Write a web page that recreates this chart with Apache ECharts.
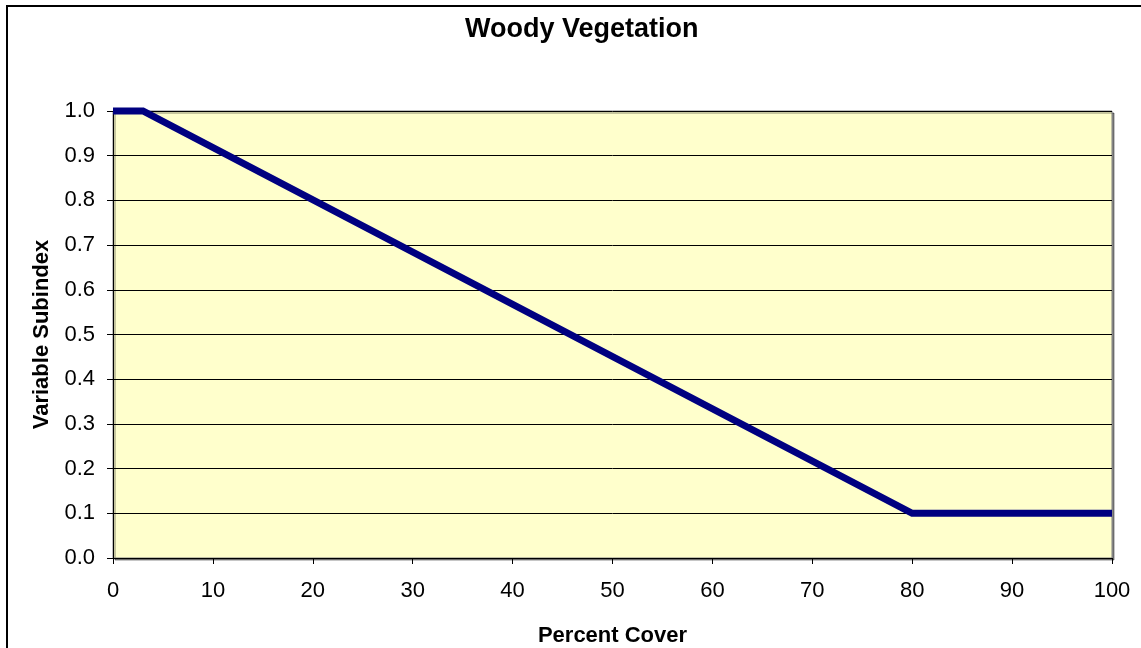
<!DOCTYPE html>
<html>
<head>
<meta charset="utf-8">
<script src="https://cdn.jsdelivr.net/npm/echarts@6/dist/echarts.min.js"></script>
<style>html,body{margin:0;padding:0;background:#fff}#c{width:1141px;height:648px}</style>
</head>
<body>
<div id="c"></div>
<script>
var titleText = 'Woody Vegetation';
var xName = 'Percent Cover';
var yName = 'Variable Subindex';
var xValues = [0, 3, 80, 100];
var yValues = [1.0, 1.0, 0.1, 0.1];

var chart = echarts.init(document.getElementById('c'));
var font = 'Liberation Sans, Arial, sans-serif';
chart.setOption({
  animation: false,
  backgroundColor: '#ffffff',
  graphic: [{
    type: 'rect', silent: true, z: -10,
    shape: {x: 7, y: 6, width: 1150, height: 660},
    style: {fill: 'none', stroke: '#000', lineWidth: 2}
  }],
  title: {
    text: titleText, left: 460, top: 11,
    textStyle: {fontFamily: font, fontSize: 27, fontWeight: 'bold', color: '#000'}
  },
  grid: {
    left: 113, right: 29, top: 111, bottom: 90,
    containLabel: false, outerBoundsMode: 'none',
    show: true, backgroundColor: '#FFFFCC', borderColor: '#808080', borderWidth: 1,
    shadowColor: 'rgba(0,0,0,0.45)', shadowOffsetX: 2, shadowOffsetY: 2, shadowBlur: 0
  },
  xAxis: {
    type: 'value', min: 0, max: 100, interval: 10,
    name: xName, nameLocation: 'middle', nameGap: 67,
    nameTextStyle: {fontFamily: font, fontSize: 22, fontWeight: 'bold', color: '#000'},
    axisLine: {show: true, lineStyle: {color: '#000', width: 1}},
    axisTick: {show: true, inside: false, length: 6, lineStyle: {color: '#000'}},
    axisLabel: {fontFamily: font, fontSize: 22, color: '#000', margin: 22},
    splitLine: {show: false}
  },
  yAxis: {
    type: 'value', min: 0, max: 1, interval: 0.1,
    name: yName, nameLocation: 'middle', nameGap: 60, nameRotate: 90,
    nameTextStyle: {fontFamily: font, fontSize: 22, fontWeight: 'bold', color: '#000'},
    axisLine: {show: true, lineStyle: {color: '#000', width: 1}},
    axisTick: {show: true, inside: false, length: 6, lineStyle: {color: '#000'}},
    axisLabel: {fontFamily: font, fontSize: 22, color: '#000', margin: 18,
      formatter: function (v) { return v.toFixed(1); }},
    splitLine: {show: true, lineStyle: {color: '#000', width: 1}}
  },
  series: [{
    type: 'line',
    data: xValues.map(function (x, i) { return [x, yValues[i]]; }),
    showSymbol: false, symbol: 'none',
    lineStyle: {color: '#000080', width: 7, join: 'miter'},
    clip: false
  }]
});
</script>
</body>
</html>
